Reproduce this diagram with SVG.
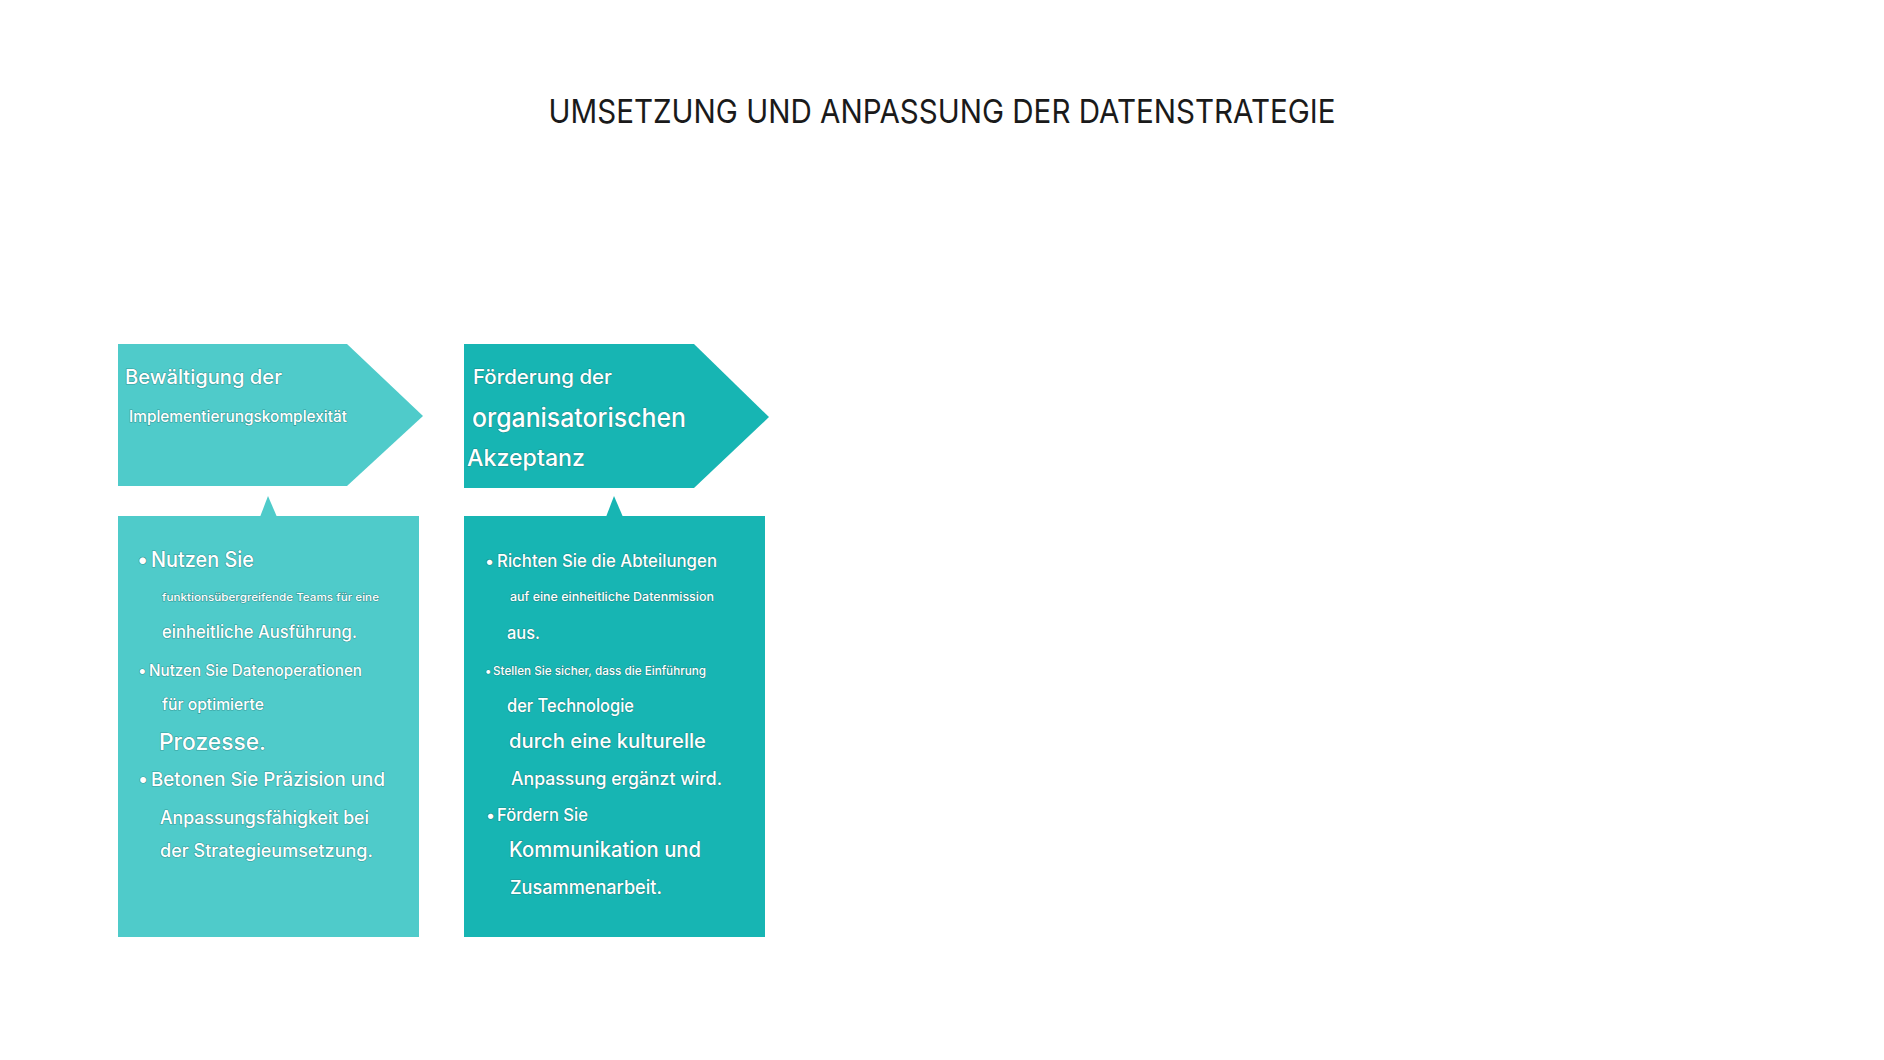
<svg xmlns="http://www.w3.org/2000/svg" width="1884" height="1060" viewBox="0 0 1884 1060">
  <style>
    .title { font-family: Inter, "Noto Sans", "Liberation Sans", sans-serif; font-size: 33px; font-weight: 400; fill: #1a1a1a; }
    .t { font-family: Inter, "Noto Sans", "Liberation Sans", sans-serif; fill: #ffffff; font-weight: 500; stroke: #1f6f6e; stroke-opacity: 0.55; stroke-width: 1.2px; paint-order: stroke; }
    .c1 { fill: #4fcbca; }
    .c2 { fill: #17b5b3; }
  </style>
  <rect width="1884" height="1060" fill="#ffffff"/>
  <text class="title" x="942" y="123" text-anchor="middle" textLength="787" lengthAdjust="spacingAndGlyphs">UMSETZUNG UND ANPASSUNG DER DATENSTRATEGIE</text>

  <g id="node-header-1">
    <polygon class="c1" points="118,344 347,344 423,416 347,486 118,486"/>
    <text class="t" x="125" y="384" font-size="20" textLength="157" lengthAdjust="spacingAndGlyphs">Bewältigung der</text>
    <text class="t" x="129" y="422" font-size="16" textLength="218" lengthAdjust="spacingAndGlyphs">Implementierungskomplexität</text>
  </g>

  <g id="node-header-2">
    <polygon class="c2" points="464,344 694,344 769,417 694,488 464,488"/>
    <text class="t" x="473" y="384" font-size="20" textLength="139" lengthAdjust="spacingAndGlyphs">Förderung der</text>
    <text class="t" x="472" y="427" font-size="26" textLength="214" lengthAdjust="spacingAndGlyphs">organisatorischen</text>
    <text class="t" x="467" y="466" font-size="23" textLength="118" lengthAdjust="spacingAndGlyphs">Akzeptanz</text>
  </g>

  <g id="node-body-1">
    <polygon class="c1" points="260,517 268,496 277,517"/>
    <rect class="c1" x="118" y="516" width="301" height="421"/>
    <text class="t" x="137" y="567" font-size="21">•</text>
    <text class="t" x="151" y="567" font-size="21" textLength="103" lengthAdjust="spacingAndGlyphs">Nutzen Sie</text>
    <text class="t" x="162" y="601" font-size="11" textLength="217" lengthAdjust="spacingAndGlyphs">funktionsübergreifende Teams für eine</text>
    <text class="t" x="162" y="638" font-size="17" textLength="195" lengthAdjust="spacingAndGlyphs">einheitliche Ausführung.</text>
    <text class="t" x="138" y="676" font-size="16">•</text>
    <text class="t" x="149" y="676" font-size="16" textLength="213" lengthAdjust="spacingAndGlyphs">Nutzen Sie Datenoperationen</text>
    <text class="t" x="162" y="710" font-size="16" textLength="102" lengthAdjust="spacingAndGlyphs">für optimierte</text>
    <text class="t" x="159" y="750" font-size="23" textLength="107" lengthAdjust="spacingAndGlyphs">Prozesse.</text>
    <text class="t" x="138" y="786" font-size="19">•</text>
    <text class="t" x="151" y="786" font-size="19" textLength="234" lengthAdjust="spacingAndGlyphs">Betonen Sie Präzision und</text>
    <text class="t" x="160" y="824" font-size="18" textLength="209" lengthAdjust="spacingAndGlyphs">Anpassungsfähigkeit bei</text>
    <text class="t" x="160" y="857" font-size="18" textLength="213" lengthAdjust="spacingAndGlyphs">der Strategieumsetzung.</text>
  </g>

  <g id="node-body-2">
    <polygon class="c2" points="606,517 614,496 623,517"/>
    <rect class="c2" x="464" y="516" width="301" height="421"/>
    <text class="t" x="485" y="567" font-size="17">•</text>
    <text class="t" x="497" y="567" font-size="17" textLength="220" lengthAdjust="spacingAndGlyphs">Richten Sie die Abteilungen</text>
    <text class="t" x="510" y="601" font-size="12" textLength="204" lengthAdjust="spacingAndGlyphs">auf eine einheitliche Datenmission</text>
    <text class="t" x="507" y="639" font-size="17" textLength="33" lengthAdjust="spacingAndGlyphs">aus.</text>
    <text class="t" x="485" y="675" font-size="12">•</text>
    <text class="t" x="493" y="675" font-size="12" textLength="213" lengthAdjust="spacingAndGlyphs">Stellen Sie sicher, dass die Einführung</text>
    <text class="t" x="507" y="712" font-size="18" textLength="127" lengthAdjust="spacingAndGlyphs">der Technologie</text>
    <text class="t" x="509" y="748" font-size="20" textLength="197" lengthAdjust="spacingAndGlyphs">durch eine kulturelle</text>
    <text class="t" x="511" y="785" font-size="18" textLength="211" lengthAdjust="spacingAndGlyphs">Anpassung ergänzt wird.</text>
    <text class="t" x="486" y="821" font-size="17">•</text>
    <text class="t" x="497" y="821" font-size="17" textLength="91" lengthAdjust="spacingAndGlyphs">Fördern Sie</text>
    <text class="t" x="509" y="857" font-size="21" textLength="192" lengthAdjust="spacingAndGlyphs">Kommunikation und</text>
    <text class="t" x="510" y="894" font-size="19" textLength="152" lengthAdjust="spacingAndGlyphs">Zusammenarbeit.</text>
  </g>

  <g id="connectors"></g>
</svg>
